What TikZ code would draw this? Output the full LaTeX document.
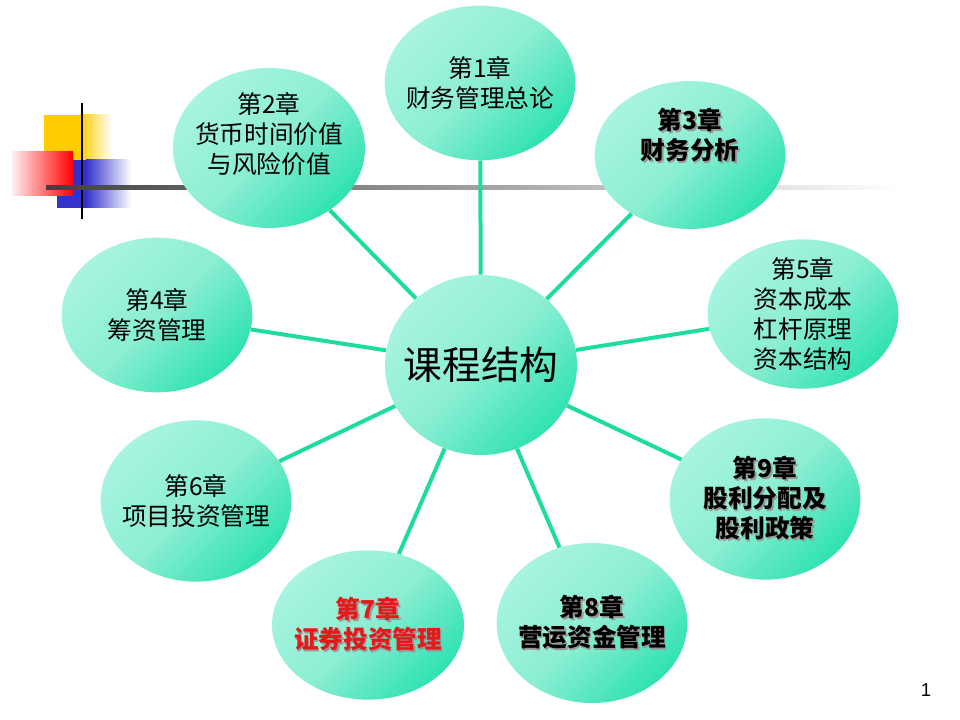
\documentclass[tikz,border=0pt]{standalone}
\usepackage{fontspec}
\setsansfont{Liberation Sans}
\newfontfamily\cjk{Noto Sans CJK SC}
\usetikzlibrary{shapes.geometric}

\definecolor{linkgreen}{HTML}{1EDCA0}
\definecolor{balllight}{HTML}{A8F4E0}
\definecolor{ballmid}{HTML}{8CEED3}
\definecolor{balldark}{HTML}{2FE2B1}
\definecolor{chapred}{HTML}{E41A1A}
\definecolor{sqyellow}{HTML}{FFCC00}
\definecolor{sqblue}{HTML}{3333CC}
% text with a grey drop shadow
\newcommand\shd[1]{\leavevmode\rlap{\kern1.2pt\raisebox{-1.2pt}{\color{black!40}#1}}#1}

\begin{document}
\begin{tikzpicture}[x=0.75pt,y=-0.75pt,
                    chap/.style={ellipse,inner sep=-28pt,minimum width=143pt,minimum height=118pt,
                                 top color=balllight,bottom color=balldark,middle color=ballmid,
                                 shading angle=45,align=center,
                                 font=\cjk\fontsize{18.5}{22.5}\selectfont},
                    link/.style={draw=linkgreen,line width=3pt}]
  \useasboundingbox (0,0) rectangle (960,720);
  % corner squares and rules
  \fill[sqyellow] (44,115) rectangle (80,160);
  \shade[left color=sqyellow,right color=white] (80,115) rectangle (112,160);
  \fill[sqblue] (57,160) rectangle (86,208);
  \shade[left color=sqblue,right color=white] (86,160) rectangle (131,208);
  \shade[left color=red!6,right color=red] (12,152) rectangle (73,196);
  \fill[black] (80.5,103) rectangle (83,219);
  \shade[left color=black!75,middle color=black!45,right color=white] (46,186) rectangle (900,190);

  \node[chap,minimum width=144pt,minimum height=135pt,font=\cjk\fontsize{29}{34}\selectfont]
       (hub) at (481,365) {课程结构};
  \node[chap,minimum height=116pt] (ch1) at (480,83) {第1章\\财务管理总论};
  \node[chap,minimum width=144pt,minimum height=120pt] (ch2) at (269,148)
       {第2章\\货币时间价值\\与风险价值\\\mbox{}};
  \node[chap,minimum height=111pt,font=\cjk\bfseries\fontsize{18.5}{22.5}\selectfont] (ch3) at (690,155)
       {\shd{第3章}\\\shd{财务分析}\\[9pt]\mbox{}};
  \node[chap,minimum height=116pt] (ch4) at (157,315) {第4章\\筹资管理};
  \node[chap,minimum height=112pt] (ch5) at (803,314) {第5章\\资本成本\\杠杆原理\\资本结构};
  \node[chap,minimum height=121pt] (ch6) at (196,501) {第6章\\项目投资管理};
  \node[chap,minimum width=144pt,minimum height=112pt,
        font=\cjk\bfseries\fontsize{18.5}{22.5}\selectfont\color{chapred}] (ch7) at (368,625)
       {\shd{第7章}\\\shd{证券投资管理}};
  \node[chap,minimum height=120pt,font=\cjk\bfseries\fontsize{18.5}{22.5}\selectfont] (ch8) at (592,623)
       {\shd{第8章}\\\shd{营运资金管理}};
  \node[chap,minimum height=121pt,font=\cjk\bfseries\fontsize{18.5}{22.5}\selectfont] (ch9) at (765,499)
       {\shd{第9章}\\\shd{股利分配及}\\\shd{股利政策}};

  \path[link]
    (hub) edge (ch1)
          edge (ch2)
          edge (ch3)
          edge (ch4)
          edge (ch5)
          edge (ch6)
          edge (ch7)
          edge (ch8)
          edge (ch9);

  \node[font=\sffamily\fontsize{14}{16}\selectfont] (pg) at (926,690) {1};
\end{tikzpicture}
\end{document}
